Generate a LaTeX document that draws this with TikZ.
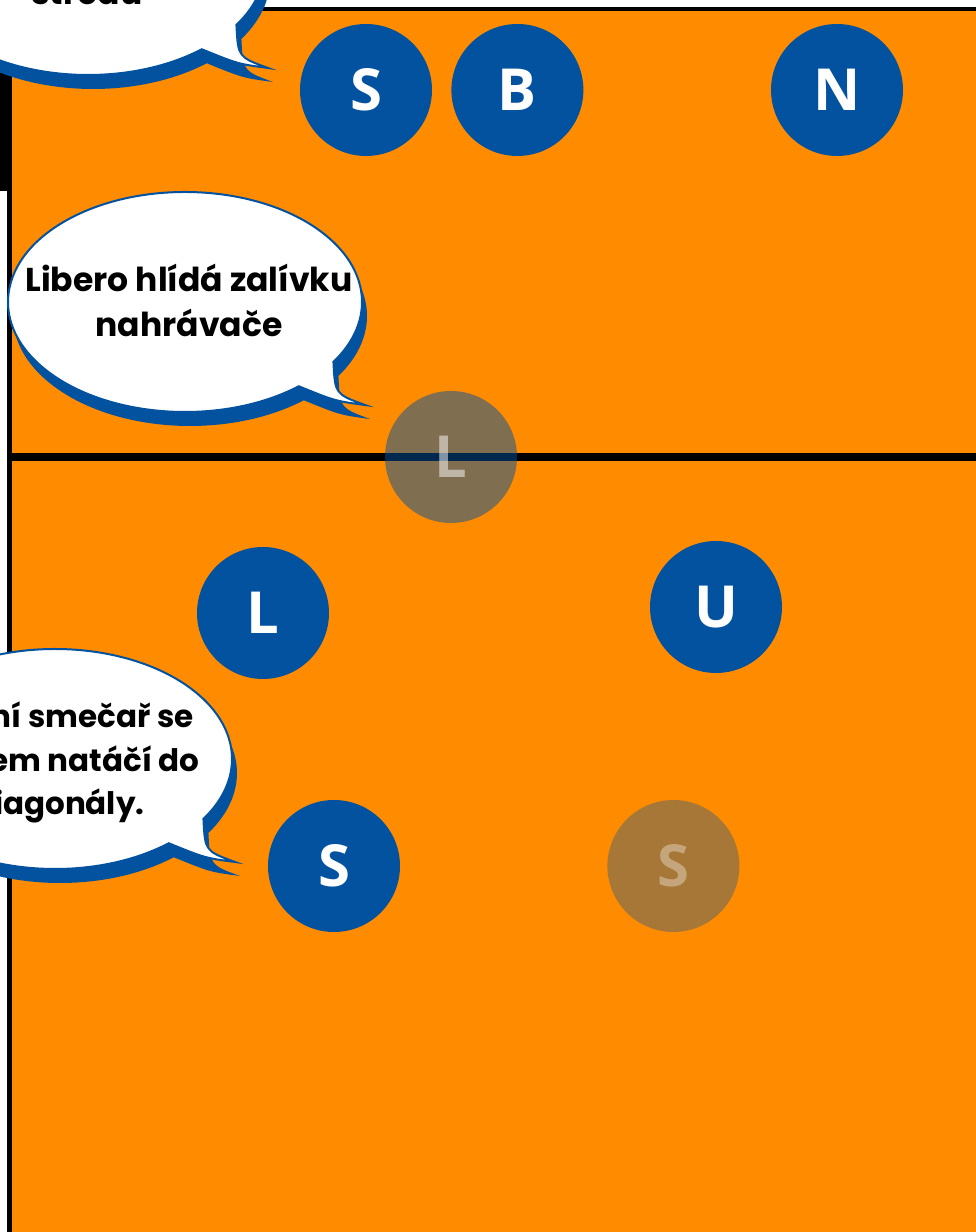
\documentclass[tikz,border=0pt]{standalone}
\usepackage{fontspec}
\usepackage{tikz}
\usetikzlibrary{positioning}
\newfontfamily\playerfont{Open Sans}
\newfontfamily\calloutfont{Poppins}
\definecolor{teamblue}{HTML}{0352A0}
\definecolor{courtorange}{HTML}{FF8C00}

\begin{document}
\begin{tikzpicture}[
  x=1pt, y=1pt,
  player/.style={circle, fill=teamblue, minimum size=132pt, inner sep=0pt, text=white, font=\playerfont\bfseries\fontsize{58}{58}\selectfont},
  faded/.style={player, opacity=#1},
  callout/.style={font=\calloutfont\bfseries\fontsize{33}{45}\selectfont, align=center},
  smallcallout/.style={callout, font=\calloutfont\bfseries\fontsize{31}{43}\selectfont},
  courtline/.style={line width=#1},
  bubble/.pic={
    \filldraw[fill=white, draw=teamblue, line width=2pt,
      preaction={fill=teamblue, transform canvas={shift={(5,-14)}}}]
      (-33:177 and 110) .. controls (150,-92) .. (180,-103)
      .. controls (150,-99) .. (-50:177 and 110)
      arc[start angle=-50, end angle=-393, x radius=177, y radius=110] -- cycle;
  }
]
  \clip (0,0) rectangle (976,1232);
  \fill[white] (0,0) rectangle (976,1232);

  % court
  \fill[courtorange] (12,0) rectangle (976,1221);
  \fill[black] (0,1041) rectangle (11,1232);
  \draw[courtline=4.5pt] (7,1223) -- (976,1223);
  \draw[courtline=5pt] (9.5,0) -- (9.5,1225);
  \draw[courtline=7.5pt] (9,775) -- (976,775);

  % players
  \node[player] (spikerA) at (366,1142) {S};
  \node[player, right=19pt of spikerA] (blocker) {B};
  \node[player] (setter) at (837,1142) {N};
  \node[faded=0.5] (liberoGhost) at (451,775) {L};
  \node[player] (libero) at (263,619) {L};
  \node[player] (opposite) at (716,625) {U};
  \node[player] (spikerB) at (334,366) {S};
  \node[faded=0.35, right=207pt of spikerB] (spikerGhost) {S};

  % callouts
  \pic (topBubble) at (88,1267) {bubble};
  \node[callout, anchor=base] (topHint) at (87,1227) {středu};

  \pic (midBubble) at (185,930) {bubble};
  \node[callout, anchor=base] (liberoHint) at (189,895) {Libero hlídá zalívku\\nahrávače};

  \pic (lowBubble) at (55,473) {bubble};
  \node[smallcallout, anchor=base east] (turnA) at (197,504) {ní smečař se};
  \node[smallcallout, anchor=base east] (turnB) at (203,460) {em natáčí do};
  \node[smallcallout, anchor=base east] (turnC) at (148,417) {iagonály.};
\end{tikzpicture}
\end{document}
